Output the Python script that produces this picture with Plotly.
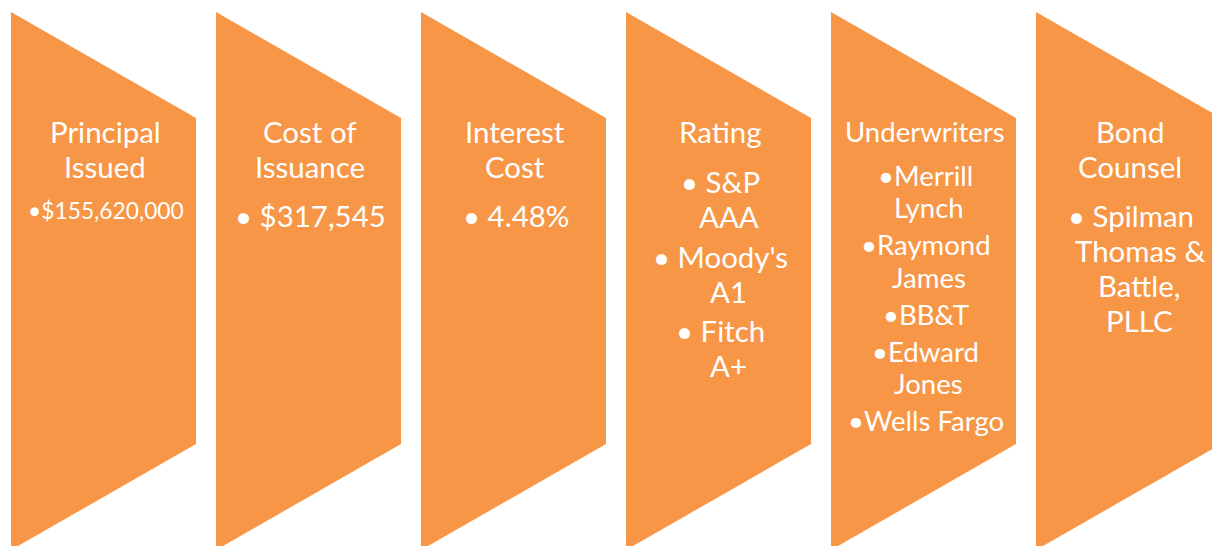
import plotly.graph_objects as go

# ---------------- data ----------------
STEP_TITLES = ["Principal\nIssued", "Cost of\nIssuance", "Interest\nCost",
               "Rating", "Underwriters", "Bond\nCounsel"]
STEP_ITEMS = [
    ["$155,620,000"],
    ["$317,545"],
    ["4.48%"],
    ["S&P\nAAA", "Moody's\nA1", "Fitch\nA+"],
    ["Merrill\nLynch", "Raymond\nJames", "BB&T", "Edward\nJones", "Wells Fargo"],
    ["Spilman\nThomas &\nBattle,\nPLLC"],
]

# ---------------- style / layout ----------------
W, H = 1212, 546
FILL = "#F79646"
FONT = "Lato"
SCALE = 0.95           # Lato -> Calibri-like size
TITLE_PX = [31, 31, 31, 31, 29, 31]
ITEM_PX = [24, 31, 31, 31, 29, 31]
BULLET_SEP = ["", " ", " ", " ", "", " "]
CONT_SHIFT = [6, 10, 10, 10, 5, 11]
GAP_F = [0.8, 0.8, 0.8, 0.82, 0.76, 0.8]

X0, SHAPE_W, PITCH = 11, 185, 205
TOP, NOTCH, SIDE_TOP, SIDE_BOT = 12, 106, 118, 444
TITLE_Y0 = 133
Y_ADJ = -2.0

fig = go.Figure()

for i, (title, items) in enumerate(zip(STEP_TITLES, STEP_ITEMS)):
    left = X0 + i * PITCH
    right = left + SHAPE_W
    bottom = SIDE_BOT + (SIDE_TOP - TOP)
    xs = [left, right, right, left, left]
    ys = [TOP, SIDE_TOP, SIDE_BOT, bottom, TOP]
    fig.add_trace(go.Scatter(x=xs, y=ys, fill="toself", fillcolor=FILL,
                             mode="lines", line=dict(width=0),
                             hoverinfo="skip", showlegend=False))
    cx = left + SHAPE_W / 2
    ft, fi = TITLE_PX[i], ITEM_PX[i]

    lines = []  # (text, x, y, px)
    y = TITLE_Y0
    tl = title.split("\n")
    for k, t in enumerate(tl):
        if k > 0:
            y += 1.13 * ft
        lines.append((t, cx + 1.5, y, ft))
    y += GAP_F[i] * (ft + fi)
    for j, item in enumerate(items):
        if j > 0:
            y += 1.27 * fi
        parts = item.split("\n")
        for k, p in enumerate(parts):
            if k == 0:
                lines.append(("\u2022" + BULLET_SEP[i] + p, cx + 2, y, fi))
            else:
                y += 1.13 * fi
                lines.append((p, cx + CONT_SHIFT[i], y, fi))

    for t, x, yy, px in lines:
        fig.add_annotation(x=x, y=yy + Y_ADJ, text=t, showarrow=False,
                           xanchor="center", yanchor="middle",
                           font=dict(family=FONT, size=px * SCALE, color="white"))

fig.update_layout(
    width=W, height=H,
    margin=dict(l=0, r=0, t=0, b=0),
    paper_bgcolor="white", plot_bgcolor="white",
    xaxis=dict(range=[0, W], visible=False, fixedrange=True),
    yaxis=dict(range=[H, 0], visible=False, fixedrange=True),
    showlegend=False,
)

fig.write_html("out.html", config={"displayModeBar": False},
               post_script="document.body.style.margin='0';document.body.style.overflow='hidden';")
